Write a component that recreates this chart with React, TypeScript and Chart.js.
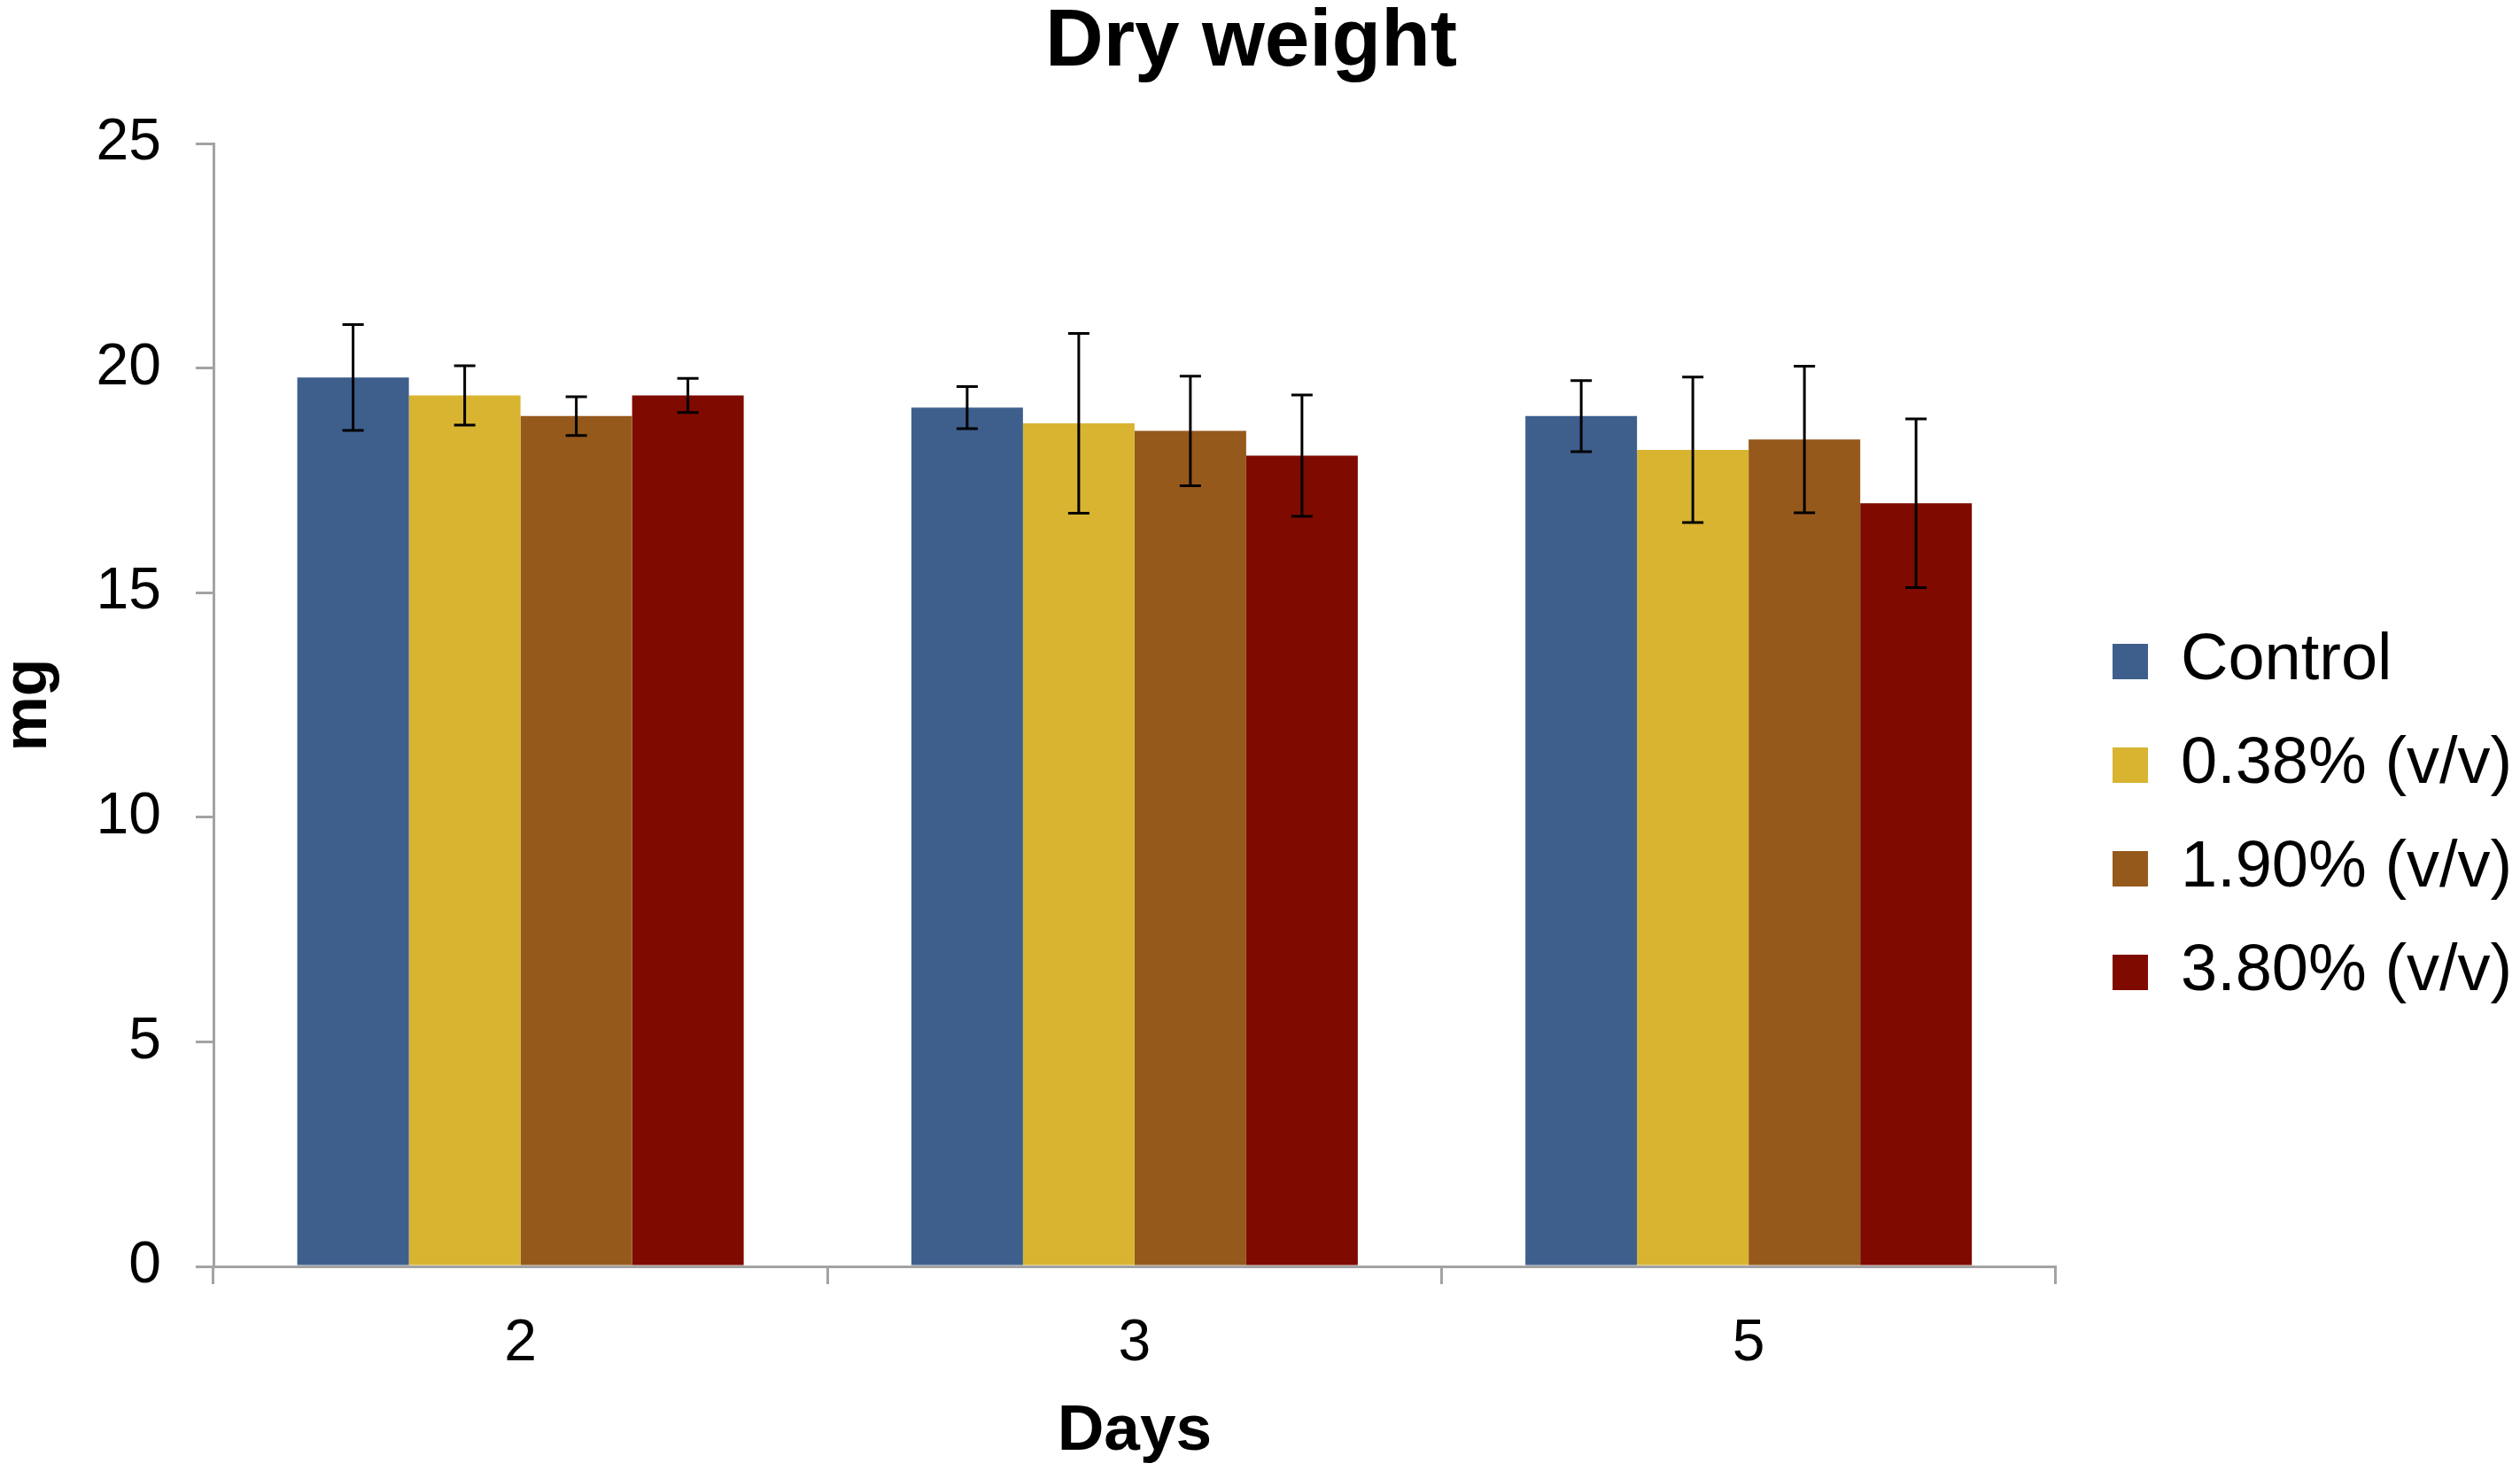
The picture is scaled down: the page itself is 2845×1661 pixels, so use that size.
import React, { useEffect, useRef } from "react";
import { Chart, registerables } from "chart.js";

Chart.register(...registerables);

// ---- data ----
const days = ["2", "3", "5"];
const seriesNames = ["Control", "0.38% (v/v)", "1.90% (v/v)", "3.80% (v/v)"];
const controlMeans = [19.79, 19.12, 18.93];
const p038Means = [19.39, 18.77, 18.18];
const p190Means = [18.93, 18.6, 18.41];
const p380Means = [19.39, 18.05, 16.99];
const controlErr = [1.18, 0.47, 0.79];
const p038Err = [0.66, 2.0, 1.62];
const p190Err = [0.43, 1.22, 1.63];
const p380Err = [0.38, 1.35, 1.88];
const yTicks = [0, 5, 10, 15, 20, 25];
const seriesColors = ["#3E5F8C", "#D8B431", "#96591C", "#7F0A00"];

const FONT = "'Liberation Sans', Arial, Helvetica, sans-serif";
const AXIS = "#A3A3A3";
const LEGEND_TEXT_X = 2462;
const LEGEND_SHIFT_Y = 92;

const errorBarPlugin = {
  id: "errorBars",
  afterDatasetsDraw(chart: any) {
    const ctx = chart.ctx;
    const yScale = chart.scales.y;
    ctx.save();
    ctx.strokeStyle = "#000000";
    ctx.lineWidth = 3;
    chart.data.datasets.forEach((ds: any, i: number) => {
      const meta = chart.getDatasetMeta(i);
      meta.data.forEach((bar: any, j: number) => {
        const v = ds.data[j];
        const e = ds.errors[j];
        const x = bar.x;
        const yt = yScale.getPixelForValue(v + e);
        const yb = yScale.getPixelForValue(v - e);
        const cap = 12;
        ctx.beginPath();
        ctx.moveTo(x, yt);
        ctx.lineTo(x, yb);
        ctx.moveTo(x - cap, yt);
        ctx.lineTo(x + cap, yt);
        ctx.moveTo(x - cap, yb);
        ctx.lineTo(x + cap, yb);
        ctx.stroke();
      });
    });
    ctx.restore();
  },
};

const legendShiftPlugin = {
  id: "legendShift",
  afterLayout(chart: any) {
    const lg = chart.legend;
    if (!lg) return;
    const pad = lg.options.labels.padding;
    const bw = lg.options.labels.boxWidth;
    const fs = lg.options.labels.font.size;
    const textX = lg.left + pad + bw + fs / 2;
    const shift = LEGEND_TEXT_X - textX;
    lg.left += shift;
    lg.right += shift;
    lg.top += LEGEND_SHIFT_Y;
    lg.bottom += LEGEND_SHIFT_Y;
  },
};

export default function App() {
  const ref = useRef<HTMLCanvasElement | null>(null);

  useEffect(() => {
    if (!ref.current) return;
    const means = [controlMeans, p038Means, p190Means, p380Means];
    const errs = [controlErr, p038Err, p190Err, p380Err];
    const chart = new Chart(ref.current, {
      type: "bar",
      data: {
        labels: days,
        datasets: seriesNames.map((name, i) => ({
          label: name,
          data: means[i],
          errors: errs[i],
          backgroundColor: seriesColors[i],
          borderWidth: 0,
          barPercentage: 1,
          categoryPercentage: 0.727,
        })) as any,
      },
      options: {
        animation: false,
        responsive: false,
        devicePixelRatio: 1,
        layout: { padding: { left: 0, right: 20, top: 0, bottom: 0 } },
        plugins: {
          title: {
            display: true,
            text: "Dry weight",
            color: "#000000",
            font: { family: FONT, size: 91, weight: "bold", lineHeight: 1 },
            padding: { top: 3, bottom: 68 },
          },
          legend: {
            position: "right",
            labels: {
              color: "#000000",
              font: { family: FONT, size: 74 },
              boxWidth: 40,
              boxHeight: 40,
              padding: 43,
            },
          },
          tooltip: { enabled: false },
        },
        scales: {
          x: {
            offset: true,
            grid: {
              display: true,
              offset: true,
              drawOnChartArea: false,
              drawTicks: true,
              tickLength: 20,
              color: AXIS,
              lineWidth: 3,
            },
            border: { display: true, color: AXIS, width: 3 },
            ticks: { color: "#000000", font: { family: FONT, size: 66 }, padding: 28 },
            title: {
              display: true,
              text: "Days",
              color: "#000000",
              font: { family: FONT, size: 73, weight: "bold", lineHeight: 1.2 },
              padding: { top: 0, bottom: 0 },
            },
            afterFit(s: any) {
              s.height = 231;
            },
          },
          y: {
            min: 0,
            max: 25,
            afterBuildTicks(s: any) {
              s.ticks = yTicks.map((v) => ({ value: v }));
            },
            grid: {
              display: true,
              drawOnChartArea: false,
              drawTicks: true,
              tickLength: 20,
              color: AXIS,
              lineWidth: 3,
            },
            border: { display: true, color: AXIS, width: 3 },
            ticks: { color: "#000000", font: { family: FONT, size: 66 }, padding: 39 },
            title: {
              display: true,
              text: "mg",
              color: "#000000",
              font: { family: FONT, size: 70, weight: "bold", lineHeight: 0.94 },
              padding: 0,
            },
            afterFit(s: any) {
              s.width = 241;
            },
          },
        },
      } as any,
      plugins: [errorBarPlugin, legendShiftPlugin],
    });
    return () => chart.destroy();
  }, []);

  return (
    <div style={{ position: "fixed", left: 0, top: 0, width: 2845, height: 1661, background: "#ffffff" }}>
      <canvas ref={ref} width={2845} height={1661} style={{ display: "block", width: 2845, height: 1661 }} />
    </div>
  );
}
